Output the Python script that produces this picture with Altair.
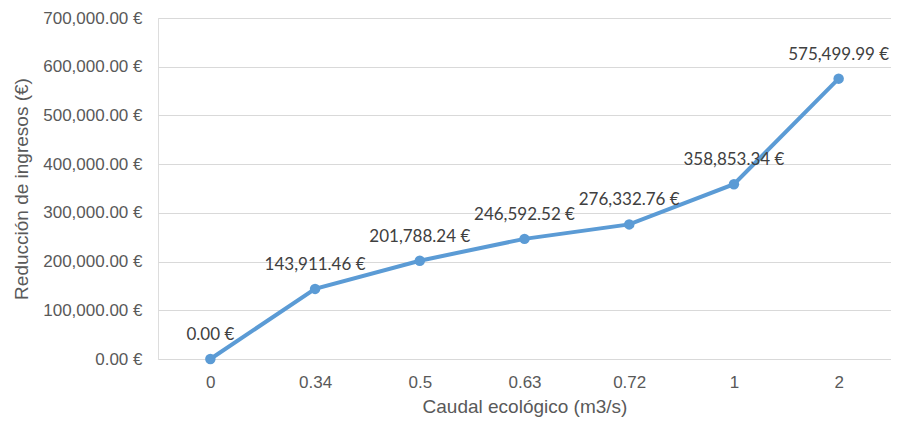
import altair as alt
import pandas as pd

categories = ["0", "0.34", "0.5", "0.63", "0.72", "1", "2"]
values = [0.00, 143911.46, 201788.24, 246592.52, 276332.76, 358853.34, 575499.99]

df = pd.DataFrame({"caudal": categories, "reduccion": values})

FONT = "Lato"
LINE_COLOR = "#5B9BD5"

x_enc = alt.X(
    "caudal:N",
    sort=categories,
    scale=alt.Scale(type="point", padding=0.5),
    axis=alt.Axis(
        title="Caudal ecológico (m3/s)",
        labelAngle=0,
        labelPadding=15,
        labelFontSize=17,
        labelColor="#595959",
        titleFontSize=19,
        titleColor="#595959",
        titleFontWeight="normal",
        titlePadding=7,
        ticks=False,
        domain=False,
        grid=False,
    ),
)
y_enc = alt.Y(
    "reduccion:Q",
    scale=alt.Scale(domain=[0, 700000], nice=False),
    axis=alt.Axis(
        title="Reducción de ingresos (€)",
        values=[0, 100000, 200000, 300000, 400000, 500000, 600000, 700000],
        labelExpr="format(datum.value, ',.2f') + ' €'",
        labelFontSize=17,
        labelColor="#595959",
        labelPadding=16,
        titleFontSize=19,
        titleColor="#595959",
        titleFontWeight="normal",
        titlePadding=11,
        ticks=False,
        domain=False,
        grid=True,
        gridColor="#D9D9D9",
        gridWidth=1,
    ),
)

base = alt.Chart(df).encode(x=x_enc, y=y_enc)

line = base.mark_line(color=LINE_COLOR, strokeWidth=4)
points = base.mark_circle(color=LINE_COLOR, size=110, opacity=1)
labels = base.transform_calculate(
    lab="format(datum.reduccion, ',.2f') + ' €'"
).mark_text(
    dy=-24, fontSize=17, color="#404040", font=FONT, baseline="middle", align="center"
).encode(text="lab:N")

chart = (
    alt.layer(line, points, labels)
    .properties(
        width=733,
        height=341,
        autosize=alt.AutoSizeParams(type="none"),
        padding={"left": 150, "top": 10, "right": 0, "bottom": 58},
    )
    .configure_view(stroke=None)
    .configure_axis(labelFont=FONT, titleFont=FONT)
    .configure(background="white")
)

chart.save("out.html", embed_options={"renderer": "svg", "actions": False})
